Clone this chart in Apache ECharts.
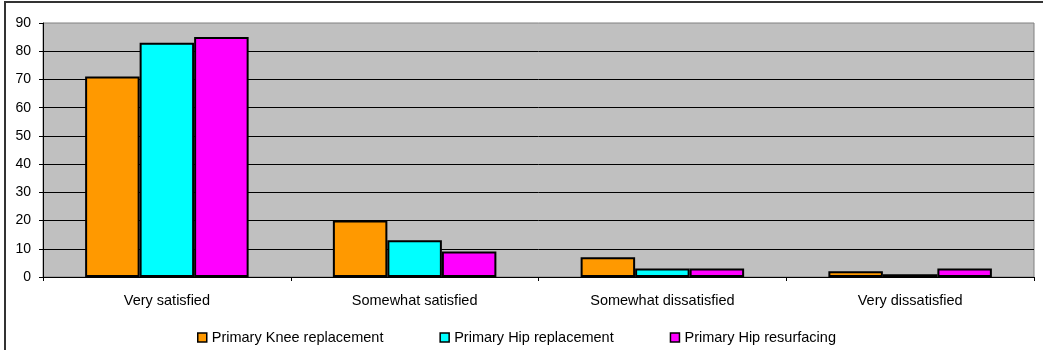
<!DOCTYPE html>
<html>
<head>
<meta charset="utf-8">
<script src="https://cdn.jsdelivr.net/npm/echarts@6/dist/echarts.min.js"></script>
<style>
  html, body { margin: 0; padding: 0; background: #ffffff; }
  #chart { width: 1043px; height: 350px; }
</style>
</head>
<body>
<div id="chart"></div>
<script>
// Patient satisfaction by procedure type (%)
const categories = ['Very satisfied', 'Somewhat satisfied', 'Somewhat dissatisfied', 'Very dissatisfied'];
const kneeReplacement = [71, 20, 7, 2];
const hipReplacement = [83, 13, 3, 1];
const hipResurfacing = [85, 9, 3, 3];
const seriesNames = ['Primary Knee replacement', 'Primary Hip replacement', 'Primary Hip resurfacing'];
const seriesColors = ['#FF9900', '#00FFFF', '#FF00FF'];
const yTicks = { min: 0, max: 90, interval: 10 };

const FONT = '"Liberation Sans", Arial, sans-serif';
const seriesData = [kneeReplacement, hipReplacement, hipResurfacing];

const chart = echarts.init(document.getElementById('chart'), null, { renderer: 'canvas' });

chart.setOption({
  animation: false,
  backgroundColor: '#ffffff',
  grid: {
    left: 43, right: 9, top: 23, bottom: 73,
    show: true,
    backgroundColor: '#C0C0C0',
    borderColor: '#808080',
    borderWidth: 1
  },
  graphic: [{
    type: 'rect',
    shape: { x: 5, y: 2, width: 1200, height: 500 },
    style: { fill: 'none', stroke: '#333333', lineWidth: 2 },
    silent: true,
    z: 100
  }],
  legend: {
    left: 197,
    top: 330,
    padding: 0,
    itemWidth: 9,
    itemHeight: 9,
    itemGap: 56,
    icon: 'rect',
    itemStyle: { borderColor: '#000', borderWidth: 1.5 },
    textStyle: { fontFamily: FONT, fontSize: 14.5, color: '#000' },
    data: seriesNames
  },
  xAxis: {
    type: 'category',
    data: categories,
    axisLine: { show: true, lineStyle: { color: '#000', width: 1 } },
    axisTick: { show: true, length: 4, alignWithLabel: false, lineStyle: { color: '#000' } },
    axisLabel: { fontFamily: FONT, fontSize: 14.5, color: '#000', margin: 16 },
    splitLine: { show: false }
  },
  yAxis: {
    type: 'value',
    min: yTicks.min,
    max: yTicks.max,
    interval: yTicks.interval,
    axisLine: { show: true, lineStyle: { color: '#000', width: 1 } },
    axisTick: { show: true, length: 4, inside: false, lineStyle: { color: '#000' } },
    axisLabel: { fontFamily: FONT, fontSize: 14, color: '#000', margin: 12 },
    splitLine: { show: true, showMaxLine: false, lineStyle: { color: '#000', width: 1 } }
  },
  series: seriesNames.map((name, i) => ({
    name: name,
    type: 'bar',
    data: seriesData[i],
    barGap: '0%',
    barCategoryGap: '34%',
    itemStyle: { color: seriesColors[i], borderColor: '#000', borderWidth: 2 }
  }))
});
</script>
</body>
</html>
